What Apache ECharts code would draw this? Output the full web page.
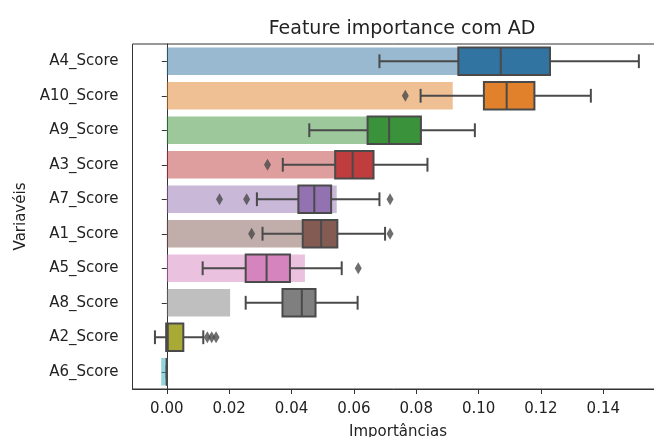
<!DOCTYPE html>
<html>
<head>
<meta charset="utf-8">
<script src="https://cdn.jsdelivr.net/npm/echarts@6/dist/echarts.min.js"></script>
<style>
  html, body { margin: 0; padding: 0; background: #fff; }
  #main { width: 654px; height: 437px; }
</style>
</head>
<body>
<div id="main"></div>
<script>
var categories = ['A4_Score', 'A10_Score', 'A9_Score', 'A3_Score', 'A7_Score',
                  'A1_Score', 'A5_Score', 'A8_Score', 'A2_Score', 'A6_Score'];
// mean importances (translucent bars)
var means = [0.105, 0.0917, 0.071, 0.058, 0.0545, 0.048, 0.0443, 0.0203, 0.003, -0.0018];
// box stats: [low whisker, Q1, median, Q3, high whisker]
var boxStats = [
    [0.0682, 0.0935, 0.1071, 0.1229, 0.1514],
    [0.0814, 0.1017, 0.1090, 0.1179, 0.1360],
    [0.0457, 0.0644, 0.0713, 0.0815, 0.0988],
    [0.0372, 0.0540, 0.0596, 0.0663, 0.0836],
    [0.0289, 0.0422, 0.0473, 0.0527, 0.0682],
    [0.0307, 0.0436, 0.0495, 0.0547, 0.0700],
    [0.0115, 0.0253, 0.0320, 0.0395, 0.0561],
    [0.0253, 0.0371, 0.0433, 0.0477, 0.0612],
    [-0.0038, -0.0002, 0.0003, 0.0053, 0.0117],
    [0, 0, 0, 0, 0]
];
// outliers: [category index, value]
var outliers = [
    [1, 0.0765],
    [3, 0.0323],
    [4, 0.0169], [4, 0.0256], [4, 0.0716],
    [5, 0.0272], [5, 0.0716],
    [6, 0.0614],
    [8, 0.0130], [8, 0.0144], [8, 0.0158]
];
var xTicks = [0, 0.02, 0.04, 0.06, 0.08, 0.10, 0.12, 0.14];

var colors = ['#3274a1', '#e1812c', '#3a923a', '#c03d3e', '#9372b2',
              '#845b53', '#d684bd', '#7f7f7f', '#a9aa35', '#2eabb8'];
var edge = '#4a4a4a';
var font = 'DejaVu Sans';

var chart = echarts.init(document.getElementById('main'));

var boxData = boxStats.map(function (s, i) {
    return [i].concat(s);
});

var option = {
    animation: false,
    title: {
        text: 'Feature importance com AD',
        left: 397,
        textAlign: 'center',
        top: 15,
        textStyle: { fontFamily: font, fontSize: 19, fontWeight: 'normal', color: '#222' }
    },
    grid: {
        left: 132.5,
        top: 44,
        right: -9.5,
        bottom: 48,
        outerBoundsMode: 'none',
        containLabel: false,
        show: true,
        borderColor: '#333',
        borderWidth: 1
    },
    xAxis: {
        type: 'value',
        min: -0.011,
        max: 0.1593,
        name: 'Importâncias',
        nameLocation: 'middle',
        nameGap: 36,
        nameTextStyle: { fontFamily: font, fontSize: 15, color: '#222' },
        axisLine: { show: true, lineStyle: { color: '#333' } },
        axisTick: { show: true, length: 5, customValues: xTicks, lineStyle: { color: '#333' } },
        axisLabel: {
            customValues: xTicks,
            fontFamily: font, fontSize: 15, color: '#222', margin: 13,
            formatter: function (v) { return v.toFixed(2); }
        },
        splitLine: { show: false }
    },
    yAxis: {
        type: 'category',
        data: categories,
        inverse: true,
        name: 'Variavéis',
        nameLocation: 'middle',
        nameRotate: 90,
        nameGap: 104,
        nameTextStyle: { fontFamily: font, fontSize: 15, color: '#222' },
        axisLine: { show: true, lineStyle: { color: '#333' } },
        axisTick: { show: true, length: 5, alignWithLabel: true, lineStyle: { color: '#333' } },
        axisLabel: { fontFamily: font, fontSize: 15, color: '#222', margin: 14 },
        splitLine: { show: false }
    },
    series: [
        {
            type: 'bar',
            data: means,
            barWidth: '80%',
            z: 1,
            itemStyle: {
                opacity: 0.5,
                color: function (p) { return colors[p.dataIndex]; }
            }
        },
        {
            type: 'custom',
            z: 3,
            data: boxData,
            encode: { x: [1, 2, 3, 4, 5], y: 0 },
            renderItem: function (params, api) {
                var cat = api.value(0);
                var pLo = api.coord([api.value(1), cat]);
                var pQ1 = api.coord([api.value(2), cat]);
                var pMed = api.coord([api.value(3), cat]);
                var pQ3 = api.coord([api.value(4), cat]);
                var pHi = api.coord([api.value(5), cat]);
                var band = api.size([0, 1])[1];
                var h = band * 0.8;
                var cy = pMed[1];
                var capH = h / 2;
                var ls = { stroke: edge, lineWidth: 2 };
                return {
                    type: 'group',
                    children: [
                        { type: 'line', shape: { x1: pLo[0], y1: cy, x2: pQ1[0], y2: cy }, style: ls },
                        { type: 'line', shape: { x1: pQ3[0], y1: cy, x2: pHi[0], y2: cy }, style: ls },
                        { type: 'line', shape: { x1: pLo[0], y1: cy - capH / 2, x2: pLo[0], y2: cy + capH / 2 }, style: ls },
                        { type: 'line', shape: { x1: pHi[0], y1: cy - capH / 2, x2: pHi[0], y2: cy + capH / 2 }, style: ls },
                        {
                            type: 'rect',
                            shape: { x: pQ1[0], y: cy - h / 2, width: Math.max(pQ3[0] - pQ1[0], 0), height: h },
                            style: { fill: colors[params.dataIndex], stroke: edge, lineWidth: 2 }
                        },
                        { type: 'line', shape: { x1: pMed[0], y1: cy - h / 2, x2: pMed[0], y2: cy + h / 2 }, style: ls }
                    ]
                };
            }
        },
        {
            type: 'scatter',
            z: 4,
            data: outliers.map(function (o) { return [o[1], o[0]]; }),
            symbol: 'diamond',
            symbolSize: [7, 12],
            itemStyle: { color: edge }
        }
    ]
};

chart.setOption(option);
window.onresize = chart.resize;
</script>
</body>
</html>
